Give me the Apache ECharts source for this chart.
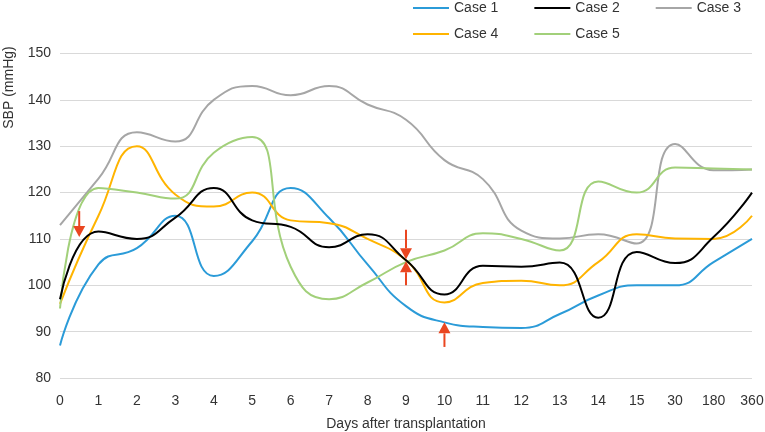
<!DOCTYPE html>
<html>
<head>
<meta charset="utf-8">
<script src="https://cdn.jsdelivr.net/npm/echarts@6/dist/echarts.min.js"></script>
<style>html,body{margin:0;padding:0;background:#fff;}#c{width:765px;height:432px;}</style>
</head>
<body>
<div id="c"></div>
<script>
const categories = ['0','1','2','3','4','5','6','7','8','9','10','11','12','13','14','15','30','180','360'];
const case1 = [87,104.5,108,115,102,109.5,121,114.5,104.5,95.5,92,91,90.8,93.8,97.8,100,100,105,110];
const case2 = [97,111.6,110,114.6,121,114,112.6,108.2,111,105.4,98,104.2,104,104.9,93,107.2,104.8,110.4,120];
const case3 = [113,123,133,131,140,143,141,143,139,135.7,127,122.9,111.8,110.1,111,109,130.5,124.8,125];
const case4 = [96,115,130,119.6,117,120,114,113.4,110,105.4,96.3,100.5,101,100,105,111,110.1,110,115];
const case5 = [95,121,120,118.7,128.6,132,104,97,100.6,105,107.5,111.2,110,107.5,122.4,120,125.4,125.2,125];
// arrows: [category position, start value, tip value]
const arrows = [[0.5,116,110.4],[9,112,105.6],[9,100,105.2],[10,86.7,92]];
const yTicks = {min:80, max:150, interval:10};

const names = ['Case 1','Case 2','Case 3','Case 4','Case 5'];
const colors = ['#2b9bd8','#000000','#a6a6a6','#ffb400','#a2d07a'];
const datas = [case1,case2,case3,case4,case5];
const font = '"Liberation Sans", Arial, Helvetica, sans-serif';

const chart = echarts.init(document.getElementById('c'), null, {renderer:'canvas'});
const lineSeries = datas.map((d,i)=>({
  name:names[i], type:'line', data:d, smooth:0.5, symbol:'none',
  lineStyle:{color:colors[i], width:2}, itemStyle:{color:colors[i]},
  xAxisIndex:0, yAxisIndex:0, z: i===1?4:3
}));
const arrowColor = '#ea4620';
const legendCommon = {left:413, padding:0, itemWidth:36, itemHeight:2, itemGap:36, icon:'rect',
  textStyle:{fontSize:14, color:'#333', fontFamily:font}};
chart.setOption({
  animation:false,
  textStyle:{fontFamily:font},
  grid:{left:60, right:13, top:53.5, bottom:54, containLabel:false, outerBoundsMode:'none'},
  legend:[
    Object.assign({data:['Case 1','Case 2','Case 3'], top:1}, legendCommon),
    Object.assign({data:['Case 4','Case 5'], top:27}, legendCommon)
  ],
  xAxis:[
    {type:'category', data:categories, boundaryGap:false,
     axisLine:{show:false}, axisTick:{show:false},
     axisLabel:{fontSize:14, color:'#333', margin:16, fontFamily:font},
     name:'Days after transplantation', nameLocation:'middle', nameGap:39,
     nameTextStyle:{fontSize:14, color:'#333', fontFamily:font}},
    {type:'value', min:0, max:categories.length-1, show:false}
  ],
  yAxis:[{type:'value', min:yTicks.min, max:yTicks.max, interval:yTicks.interval,
    axisLine:{show:false}, axisTick:{show:false},
    axisLabel:{fontSize:14, color:'#333', margin:9, fontFamily:font},
    splitLine:{lineStyle:{color:'#d9d9d9', width:1.2}}}],
  graphic:[{type:'text', x:9.5, y:87.5, rotation:Math.PI/2,
    style:{text:'SBP (mmHg)', fontSize:14, fill:'#333', fontFamily:font, align:'center', verticalAlign:'middle'}}],
  series:[...lineSeries,
    {type:'custom', xAxisIndex:1, yAxisIndex:0, data:arrows, z:10, silent:true,
     renderItem:function(params, api){
       const s = api.coord([api.value(0), api.value(1)]);
       const t = api.coord([api.value(0), api.value(2)]);
       const dir = t[1] > s[1] ? 1 : -1;
       const hl = 11, hw = 6;
       const bx = t[0], by = t[1] - dir*hl;
       return {type:'group', children:[
         {type:'line', shape:{x1:s[0], y1:s[1], x2:bx, y2:by}, style:{stroke:arrowColor, lineWidth:2}},
         {type:'polygon', shape:{points:[[t[0],t[1]],[bx-hw,by],[bx+hw,by]]}, style:{fill:arrowColor}}
       ]};
     }}
  ]
});
</script>
</body>
</html>
